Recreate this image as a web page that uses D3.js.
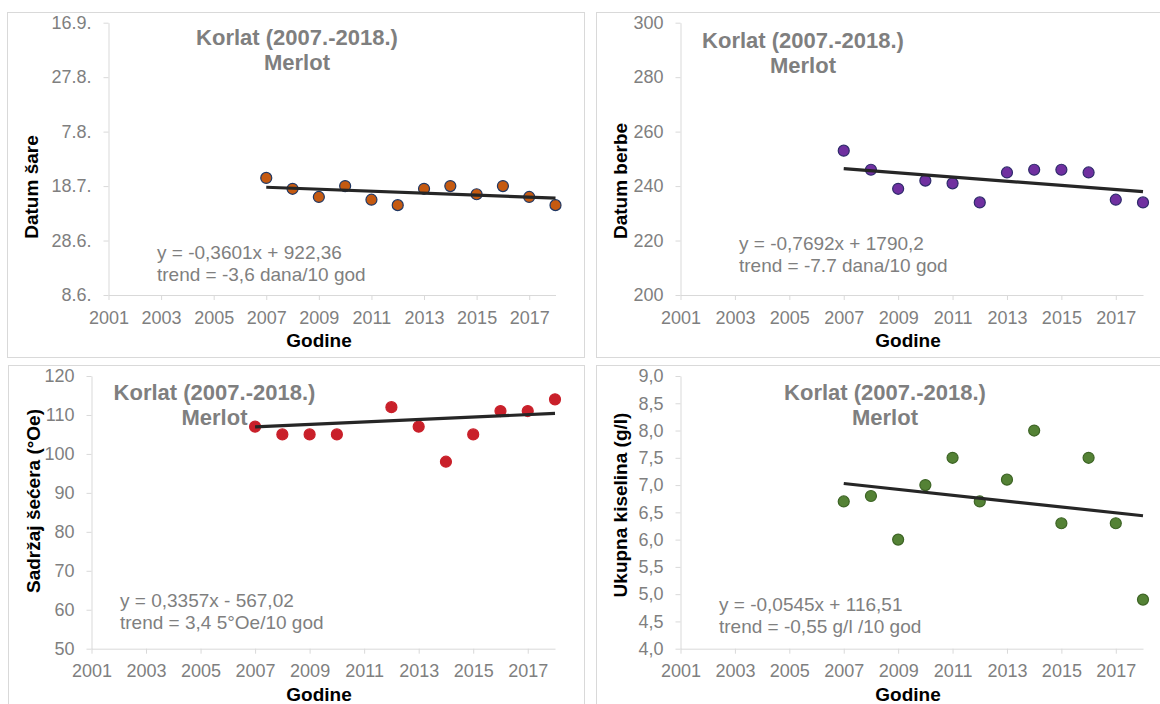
<!DOCTYPE html>
<html>
<head>
<meta charset="utf-8">
<script src="https://cdn.jsdelivr.net/npm/d3@7/dist/d3.min.js"></script>
<style>
  body { margin: 0; background: #fff; }
  text { font-family: "Liberation Sans", Arial, sans-serif; }
</style>
</head>
<body>
<div id="chart"></div>
<script>
// x axis: years
const years = [2007, 2008, 2009, 2010, 2011, 2012, 2013, 2014, 2015, 2016, 2017, 2018];
const yearTicks = [2001, 2003, 2005, 2007, 2009, 2011, 2013, 2015, 2017];

// Datum šare (day of year)
const veraison = [202, 198, 195, 199, 194, 192, 198, 199, 196, 199, 195, 192];
const veraisonTicks = [159, 179, 199, 219, 239, 259];
const veraisonTickLabels = ["8.6.", "28.6.", "18.7.", "7.8.", "27.8.", "16.9."];

// Datum berbe (day of year)
const harvest = [253, 246, 239, 242, 241, 234, 245, 246, 246, 245, 235, 234];
const harvestTicks = [200, 220, 240, 260, 280, 300];

// Sadržaj šećera (°Oe) - 2011 lies above the axis max, so it is not shown
const sugar = [107, 105, 105, 105, 124, 112, 107, 98, 105, 111, 111, 114];
const sugarTicks = [50, 60, 70, 80, 90, 100, 110, 120];

// Ukupna kiselina (g/l)
const acid = [6.7, 6.8, 6.0, 7.0, 7.5, 6.7, 7.1, 8.0, 6.3, 7.5, 6.3, 4.9];
const acidTicks = [4.0, 4.5, 5.0, 5.5, 6.0, 6.5, 7.0, 7.5, 8.0, 8.5, 9.0];

const titleLines = ["Korlat (2007.-2018.)", "Merlot"];
const axisTitles = ["Datum šare", "Datum berbe", "Sadržaj šećera (°Oe)", "Ukupna kiselina (g/l)"];
const equations = ["y = -0,3601x + 922,36", "y = -0,7692x + 1790,2", "y = 0,3357x - 567,02", "y = -0,0545x + 116,51"];
const trendTexts = ["trend = -3,6 dana/10 god", "trend = -7.7 dana/10 god", "trend = 3,4 5°Oe/10 god", "trend = -0,55 g/l /10 god"];

const W = 1160, H = 704;
const svg = d3.select("#chart").append("svg")
    .attr("width", W)
    .attr("height", H);

const panels = [
  { values: veraison, ticks: veraisonTicks, fmt: (d, i) => veraisonTickLabels[i],
    fill: "#C55A11", stroke: "#203864",
    frame: [7.5, 12.5, 577, 345], x0: 108.5, x1: 555.5, yTop: 22.7, yBot: 295,
    title: [297, 45, 70], ytitle: [31, 187], xtitle: [319, 347], eq: [157, 259, 281] },
  { values: harvest, ticks: harvestTicks, fmt: d => d,
    fill: "#7030A0", stroke: "#2E2B6B",
    frame: [596.5, 12.5, 600, 345], x0: 680.5, x1: 1143, yTop: 22.7, yBot: 295,
    title: [803, 47.5, 72.5], ytitle: [620, 181], xtitle: [908, 347], eq: [739, 250, 272] },
  { values: sugar, ticks: sugarTicks, fmt: d => d,
    fill: "#C9202A", stroke: "#C9202A",
    frame: [8.5, 365.5, 576, 400], x0: 91.5, x1: 555, yTop: 376, yBot: 648.7,
    title: [214.5, 400, 425], ytitle: [33, 501], xtitle: [319, 701], eq: [120, 607, 629] },
  { values: acid, ticks: acidTicks, fmt: d => d3.format(".1f")(d).replace(".", ","),
    fill: "#548235", stroke: "#3D6425",
    frame: [596.5, 365.5, 600, 400], x0: 680.5, x1: 1143, yTop: 376, yBot: 648.7,
    title: [885, 399.5, 424.5], ytitle: [620, 505], xtitle: [908, 701], eq: [719, 611, 633] }
];

panels.forEach((p, i) => drawPanel(p, i));

function drawPanel(p, i) {
    let g = svg.append("g").attr("class", "panel");

    g.append("rect")
        .attr("x", p.frame[0]).attr("y", p.frame[1])
        .attr("width", p.frame[2]).attr("height", p.frame[3])
        .attr("fill", "#fff")
        .attr("stroke", "#D9D9D9")
        .attr("stroke-width", 1);

    let x = d3.scaleLinear().domain([2001, 2018]).range([p.x0, p.x1]);
    let y = d3.scaleLinear().domain(d3.extent(p.ticks)).range([p.yBot, p.yTop]);

    let xAxis = g.append("g")
        .attr("transform", `translate(0, ${p.yBot})`)
        .call(d3.axisBottom(x).tickValues(yearTicks).tickFormat(d3.format("d"))
            .tickSize(5).tickSizeOuter(0).tickPadding(11));

    let yAxis = g.append("g")
        .attr("transform", `translate(${p.x0}, 0)`)
        .call(d3.axisLeft(y).tickValues(p.ticks).tickFormat(p.fmt)
            .tickSize(5).tickSizeOuter(0).tickPadding(12));

    [xAxis, yAxis].forEach(a => {
        a.select(".domain").attr("stroke", "#D9D9D9");
        a.selectAll(".tick line").attr("stroke", "#D9D9D9");
        a.selectAll(".tick text")
            .attr("fill", "#7F7F7F")
            .style("font-size", "18px")
            .style("font-family", "'Liberation Sans', Arial, sans-serif");
    });

    // least squares trend line over all years
    let pts = years.map((yr, j) => [yr, p.values[j]]);
    let mx = d3.mean(pts, d => d[0]), my = d3.mean(pts, d => d[1]);
    let slope = d3.sum(pts, d => (d[0] - mx) * (d[1] - my)) / d3.sum(pts, d => (d[0] - mx) ** 2);
    let fit = yr => my + slope * (yr - mx);
    let yrs = d3.extent(years);

    // points (only those inside the value axis, as in the original)
    let dom = y.domain();
    g.selectAll("circle.pt")
        .data(pts.filter(d => d[1] >= dom[0] && d[1] <= dom[1]))
        .enter()
        .append("circle")
        .attr("class", "pt")
        .attr("cx", d => x(d[0]))
        .attr("cy", d => y(d[1]))
        .attr("r", 5.5)
        .attr("fill", p.fill)
        .attr("stroke", p.stroke)
        .attr("stroke-width", 1.2);

    g.append("line")
        .attr("x1", x(yrs[0])).attr("y1", y(fit(yrs[0])))
        .attr("x2", x(yrs[1])).attr("y2", y(fit(yrs[1])))
        .attr("stroke", "#262626")
        .attr("stroke-width", 3.2);

    // chart title
    titleLines.forEach((t, k) => {
        g.append("text")
            .attr("x", p.title[0])
            .attr("y", p.title[1 + k])
            .attr("text-anchor", "middle")
            .attr("fill", "#7F7F7F")
            .style("font-size", "22px")
            .style("font-weight", "bold")
            .text(t);
    });

    // axis titles
    g.append("text")
        .attr("transform", `translate(${p.ytitle[0]}, ${p.ytitle[1]}) rotate(-90)`)
        .attr("text-anchor", "middle")
        .attr("dy", "0.36em")
        .attr("fill", "#000")
        .style("font-size", "19px")
        .style("font-weight", "bold")
        .text(axisTitles[i]);

    g.append("text")
        .attr("x", p.xtitle[0])
        .attr("y", p.xtitle[1])
        .attr("text-anchor", "middle")
        .attr("fill", "#000")
        .style("font-size", "19px")
        .style("font-weight", "bold")
        .text("Godine");

    // equation text
    [equations[i], trendTexts[i]].forEach((t, k) => {
        g.append("text")
            .attr("x", p.eq[0])
            .attr("y", p.eq[1 + k])
            .attr("fill", "#7F7F7F")
            .style("font-size", "19px")
            .text(t);
    });
}
</script>
</body>
</html>
